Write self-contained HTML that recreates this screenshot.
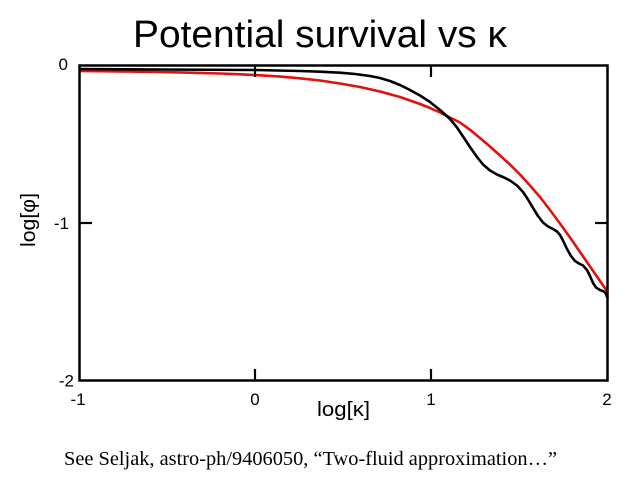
<!DOCTYPE html>
<html>
<head>
<meta charset="utf-8">
<style>
  html, body { margin: 0; padding: 0; background: #fff; }
  svg { display: block; }
</style>
</head>
<body>
<svg width="640" height="480" viewBox="0 0 640 480" xmlns="http://www.w3.org/2000/svg">
  <rect x="0" y="0" width="640" height="480" fill="#fff"/>
  <!-- Title -->
  <text x="133" y="47" font-family="Liberation Sans, Arial, sans-serif" font-size="38" fill="#000" textLength="374" lengthAdjust="spacingAndGlyphs">Potential survival vs κ</text>

  <!-- Curves -->
  <polyline fill="none" stroke="#e0110f" stroke-width="2.6" stroke-linejoin="round" stroke-linecap="round"
    points="80,71 100,71.2 120,71.4 140,71.7 160,72 180,72.4 200,72.9 220,73.5 240,74.3 260,75.3 280,76.6 300,78.3 320,80.5 340,83.5 360,87 380,91.5 400,97 420,104 430,108 440,112.5 450,117.5 460,122.5 470,129.8 480,138 490,146.5 500,155.5 510,164.5 520,174.5 530,185.5 540,197 550,210 560,223.5 570,237.5 580,252 590,266.5 600,281 607,291"/>
  <polyline fill="none" stroke="#000" stroke-width="2.6" stroke-linejoin="round" stroke-linecap="round"
    points="80,69 160,69.5 255,70 300,71 320,71.7 340,72.7 355,74 370,76 380,78 390,81 400,85 410,90 420,95.5 430,102 440,110 450,119 457,127.5 463,136.5 470,147 477,157 483,164.5 490,170.5 497,174.5 503,177 510,180.5 517,185.5 523,192 528,199.5 533,208 538,216 543,222.5 548,226.5 553,229 557,231.5 560,235 563,240.5 567,249 571,256 575,261 579,263.5 583,265.5 587,270 590,276 593,283 596,287.5 600,290 604,291.5 606,294 607.5,298"/>

  <!-- Frame -->
  <rect x="79.5" y="65.5" width="528" height="315" fill="none" stroke="#000" stroke-width="2.5"/>

  <!-- Ticks -->
  <g stroke="#000" stroke-width="2.2">
    <line x1="255" y1="380.5" x2="255" y2="369"/>
    <line x1="431" y1="380.5" x2="431" y2="369"/>
    <line x1="255" y1="65.5" x2="255" y2="77"/>
    <line x1="431" y1="65.5" x2="431" y2="77"/>
    <line x1="79.5" y1="223" x2="92" y2="223"/>
    <line x1="607.5" y1="223" x2="595" y2="223"/>
  </g>

  <!-- Tick labels -->
  <g font-family="Liberation Sans, Arial, sans-serif" font-size="17" fill="#000" style="font-size:17px">
    <text x="68" y="70" text-anchor="end">0</text>
    <text x="69" y="229" text-anchor="end">-1</text>
    <text x="74" y="386.5" text-anchor="end">-2</text>
    <text x="78" y="405" text-anchor="middle">-1</text>
    <text x="255" y="405" text-anchor="middle">0</text>
    <text x="431" y="405" text-anchor="middle">1</text>
    <text x="607" y="405" text-anchor="middle">2</text>
  </g>

  <!-- Axis labels -->
  <text x="317" y="416" font-family="Liberation Sans, Arial, sans-serif" font-size="20" fill="#000" textLength="53" lengthAdjust="spacingAndGlyphs">log[κ]</text>
  <text transform="translate(35,247) rotate(-90)" x="0" y="0" font-family="Liberation Sans, Arial, sans-serif" font-size="20" fill="#000" textLength="54" lengthAdjust="spacingAndGlyphs">log[φ]</text>

  <!-- Caption -->
  <text x="64" y="465" font-family="Liberation Serif, Times New Roman, serif" font-size="20" fill="#000" textLength="493" lengthAdjust="spacingAndGlyphs">See Seljak, astro-ph/9406050, “Two-fluid approximation…”</text>
</svg>
</body>
</html>
